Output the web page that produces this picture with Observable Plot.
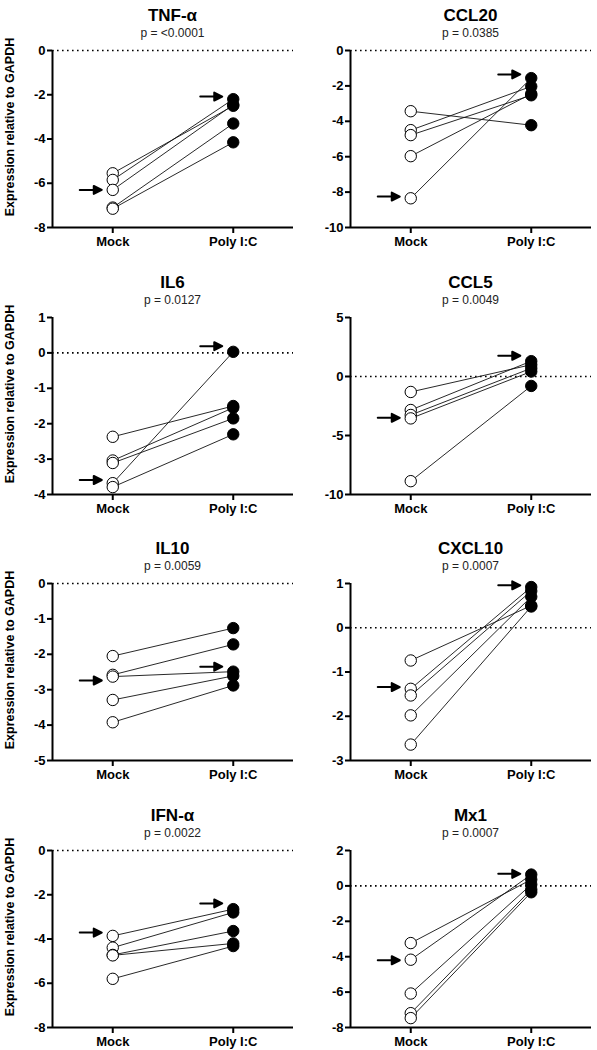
<!DOCTYPE html>
<html>
<head>
<meta charset="utf-8">
<script src="https://cdn.jsdelivr.net/npm/d3@7"></script>
<script src="https://cdn.jsdelivr.net/npm/@observablehq/plot@0.6"></script>
<style>
  body { margin: 0; background: #fff; font-family: "Liberation Sans", Arial, sans-serif; }
  #chart { position: relative; width: 597px; height: 1050px; }
  .panel { position: absolute; width: 298px; }
  .title { position: absolute; left: 52px; width: 241px; text-align: center; font-weight: bold; font-size: 17px; line-height: 20px; top: 2px; color: #000; }
  .pval { position: absolute; left: 52px; width: 241px; text-align: center; font-size: 12px; line-height: 16px; top: 21px; color: #222; }
  .plot { position: absolute; left: 0; top: 38px; }
  .ylab { position: absolute; font-weight: bold; font-size: 12.5px; white-space: nowrap; transform: translate(-50%, -50%) rotate(-90deg); color: #000; }
</style>
</head>
<body>
<div id="chart"></div>
<script>
// ---- data ----
const genes = ["TNF-α", "CCL20", "IL6", "CCL5", "IL10", "CXCL10", "IFN-α", "Mx1"];
const pLabels = ["p = <0.0001", "p = 0.0385", "p = 0.0127", "p = 0.0049", "p = 0.0059", "p = 0.0007", "p = 0.0022", "p = 0.0007"];
const groups = ["Mock", "Poly I:C"];
const mockValues = [
  [-5.55, -5.85, -6.3, -7.1, -7.15],
  [-3.43, -4.5, -4.78, -5.97, -8.35],
  [-2.37, -3.04, -3.11, -3.68, -3.79],
  [-1.31, -2.84, -3.26, -3.55, -8.87],
  [-2.05, -2.58, -2.63, -3.29, -3.92],
  [-0.74, -1.38, -1.53, -1.98, -2.64],
  [-3.86, -4.39, -4.72, -4.74, -5.8],
  [-3.23, -4.17, -6.08, -7.19, -7.47]
];
const polyValues = [
  [-2.5, -2.2, -2.45, -3.3, -4.15],
  [-4.22, -2.03, -2.53, -2.45, -1.56],
  [-1.5, -1.55, -1.85, 0.03, -2.30],
  [1.0, 1.3, 0.7, 0.42, -0.8],
  [-1.26, -1.72, -2.49, -2.61, -2.88],
  [0.5, 0.92, 0.83, 0.7, 0.48],
  [-2.65, -2.8, -3.64, -4.2, -4.32],
  [0.36, 0.64, 0.08, -0.2, -0.36]
];
const arrowMock = [-6.3, -8.25, -3.59, -3.5, -2.74, -1.34, -3.71, -4.2];
const arrowPoly = [-2.08, -1.35, 0.19, 1.76, -2.35, 0.96, -2.39, 0.68];
const yDomains = [[-8, 0], [-10, 0], [-4, 1], [-10, 5], [-5, 0], [-3, 1], [-8, 0], [-8, 2]];
const yTicks = [
  [0, -2, -4, -6, -8],
  [0, -2, -4, -6, -8, -10],
  [1, 0, -1, -2, -3, -4],
  [5, 0, -5, -10],
  [0, -1, -2, -3, -4, -5],
  [1, 0, -1, -2, -3],
  [0, -2, -4, -6, -8],
  [2, 0, -2, -4, -6, -8]
];
const yLabel = "Expression relative to GAPDH";

// ---- layout ----
const frameTops = [50, 317, 583, 850];
const frameH = 177;
const colW = 298;

const arrowShape = {
  draw(context, l) {
    context.moveTo(0, 0);
    context.lineTo(0, -l + 7);
    context.moveTo(-4, -l + 8);
    context.lineTo(0, -l);
    context.lineTo(4, -l + 8);
    context.closePath();
  }
};

const chart = document.getElementById("chart");

genes.forEach((gene, i) => {
  const row = Math.floor(i / 2), col = i % 2;
  const top = frameTops[row];
  const panel = document.createElement("div");
  panel.className = "panel";
  panel.style.left = (col * colW) + "px";
  panel.style.top = (top - 46) + "px";

  const t = document.createElement("div");
  t.className = "title"; t.textContent = gene;
  const p = document.createElement("div");
  p.className = "pval"; p.textContent = pLabels[i];
  panel.appendChild(t); panel.appendChild(p);

  const pairs = mockValues[i].map((m, k) => ({id: k, m, q: polyValues[i][k]}));
  const long = pairs.flatMap(d => [{id: d.id, x: 0, y: d.m}, {id: d.id, x: 1, y: d.q}]);
  const arrows = [{x: 0, y: arrowMock[i]}, {x: 1, y: arrowPoly[i]}];
  const [y0, y1] = yDomains[i];

  const svg = Plot.plot({
    width: 298,
    height: 8 + frameH + 32,
    marginLeft: 52,
    marginRight: 5,
    marginTop: 8,
    marginBottom: 32,
    style: {fontFamily: "Liberation Sans, Arial, sans-serif", fontSize: "13px", fontWeight: "bold", color: "#000", background: "transparent"},
    x: {domain: [-0.5, 1.5], axis: null},
    y: {domain: [y0, y1], axis: null},
    marks: [
      Plot.ruleY([0], {stroke: "#000", strokeWidth: 1.6, strokeDasharray: "1.6,3.4"}),
      Plot.line(long, {x: "x", y: "y", z: "id", stroke: "#111", strokeWidth: 0.9}),
      Plot.dot(long.filter(d => d.x === 0), {x: "x", y: "y", r: 5.7, fill: "white", stroke: "#000", strokeWidth: 1}),
      Plot.dot(long.filter(d => d.x === 1), {x: "x", y: "y", r: 5.7, fill: "#000", stroke: "#000", strokeWidth: 1}),
      Plot.vector(arrows, {x: "x", y: "y", length: 22, rotate: 90, anchor: "end", dx: -11, shape: arrowShape, stroke: "#000", fill: "#000", strokeWidth: 2}),
      Plot.ruleX([-0.5], {stroke: "#000", strokeWidth: 2}),
      Plot.ruleY([y0], {stroke: "#000", strokeWidth: 2}),
      Plot.axisY({ticks: yTicks[i], label: null, tickSize: 5, tickPadding: 2, tickFormat: d => d < 0 ? "-" + Math.abs(d) : String(d), strokeWidth: 2, fontSize: 13, fontWeight: "bold"}),
      Plot.axisX({ticks: [0, 1], label: null, tickSize: 6, tickPadding: 3, tickFormat: d => groups[d], strokeWidth: 2, fontSize: 13, fontWeight: "bold"})
    ]
  });
  svg.classList.add("plot");
  panel.appendChild(svg);
  chart.appendChild(panel);

  if (col === 0) {
    const yl = document.createElement("div");
    yl.className = "ylab";
    yl.textContent = yLabel;
    yl.style.left = "10px";
    yl.style.top = (top + frameH / 2 - 12) + "px";
    chart.appendChild(yl);
  }
});
</script>
</body>
</html>
